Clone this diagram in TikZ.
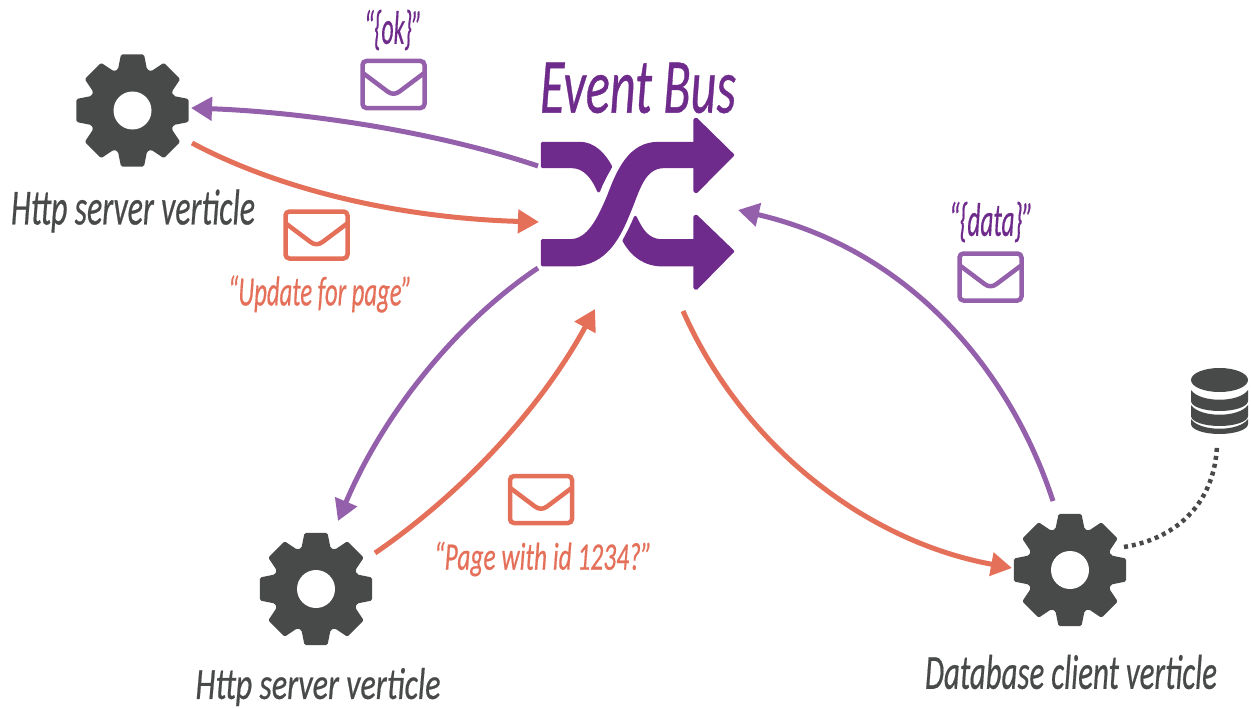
\documentclass[tikz,border=0pt]{standalone}
\usepackage{fontspec}
\setmainfont[ItalicFeatures={FakeBold=0.6}]{Carlito}
\usetikzlibrary{arrows.meta}
\definecolor{busP}{HTML}{6F2B8B}
\definecolor{lightP}{HTML}{9560AB}
\definecolor{orangeC}{HTML}{E5705A}
\definecolor{grayC}{HTML}{484A4A}
\tikzset{
  gear/.pic={
    \fill[grayC,even odd rule,rounded corners=1.5pt] (-19.5:43.5)
      \foreach \t in {0,45,...,315}{ -- (\t-19.5:43.5) -- (\t-11.6:57.2) -- (\t+11.6:57.2) -- (\t+19.5:43.5) } -- cycle;
    \fill[white] (0,0) circle (19);
  },
  envelope/.pic={
    \draw[line width=4.5pt,rounded corners=4pt,pic actions] (-31,-23.5) rectangle (31,23.5);
    \draw[line width=4.5pt,line join=round,line cap=round,pic actions] (-30,-11) -- (-6,7) .. controls (-2,10) and (2,10) .. (6,7) -- (30,-11);
  },
  flow/.style={line width=5pt,-{Triangle[length=21pt,width=23pt]}},
  lbl/.style={inner sep=0pt,font=\itshape},
  shuf/.style={fill=busP,draw=busP,line width=3pt,line join=round},
}
\begin{document}
\begin{tikzpicture}[x=1pt,y=-1pt]
\useasboundingbox (0,0) rectangle (1251,709);
% gears
\pic at (132.5,110.5) {gear};
\pic at (316,589) {gear};
\pic at (1070,570) {gear};
% database
\fill[grayC] (1191,380) arc[start angle=180,end angle=540,x radius=28.5,y radius=12];
\fill[grayC] (1191,390) .. controls (1200,403) and (1239,403) .. (1248,390) -- (1248,401) arc[start angle=0,end angle=180,x radius=28.5,y radius=10] -- cycle;
\fill[grayC] (1191,405) .. controls (1200,418) and (1239,418) .. (1248,405) -- (1248,416) arc[start angle=0,end angle=180,x radius=28.5,y radius=10] -- cycle;
\fill[grayC] (1191,419) .. controls (1200,432) and (1239,432) .. (1248,419) -- (1248,424) arc[start angle=0,end angle=180,x radius=28.5,y radius=10] -- cycle;
% shuffle icon
\begin{scope}[shift={(530,50)},x=0.3333pt,y=-0.3333pt]
\path[shuf]
  (37,280) -- (150,280) .. controls (190,280) and (222,312) .. (242,350)
  .. controls (228,375) and (215,398) .. (206,423)
  .. controls (190,385) and (165,350) .. (125,350) -- (37,350) -- cycle;
\path[shuf]
  (37,572) -- (120,572) .. controls (175,572) and (205,510) .. (235,440)
  .. controls (265,360) and (300,280) .. (385,280) -- (495,280) -- (495,209)
  -- (499,208) -- (608,315) -- (499,425) -- (495,423) -- (495,350) -- (400,350)
  .. controls (340,352) and (325,420) .. (300,480)
  .. controls (270,555) and (230,645) .. (125,645) -- (37,645) -- cycle;
\path[shuf]
  (316,502) .. controls (332,535) and (350,572) .. (395,572) -- (495,572) -- (495,500)
  -- (499,499) -- (608,604) -- (499,715) -- (495,713) -- (495,645) -- (400,645)
  .. controls (345,645) and (308,618) .. (282,572) .. controls (295,548) and (307,525) .. (316,502) -- cycle;
\end{scope}
% connector end points
\coordinate (busTL) at (538,166);
\coordinate (gearA) at (191,108);
\coordinate (gearAo) at (192,143);
\coordinate (busL) at (539,222);
\coordinate (busBL) at (538,268);
\coordinate (gearB) at (338,521);
\coordinate (gearBo) at (375,553);
\coordinate (busB) at (595,309);
\coordinate (busBR) at (683,311);
\coordinate (gearC) at (1012,568);
\coordinate (gearCo) at (1053,501);
\coordinate (busR) at (738,210);
\coordinate (gearCd) at (1124,547);
\coordinate (dbB) at (1217,445);
\draw[flow,lightP] (busTL) .. controls (430,130) and (300,112) .. (gearA);
\draw[flow,orangeC] (gearAo) .. controls (280,190) and (400,218) .. (busL);
\draw[flow,lightP] (busBL) .. controls (460,320) and (385,410) .. (gearB);
\draw[flow,orangeC] (gearBo) .. controls (460,495) and (540,410) .. (busB);
\draw[flow,orangeC] (busBR) .. controls (740,440) and (860,540) .. (gearC);
\draw[flow,lightP] (gearCo) .. controls (1010,370) and (910,250) .. (busR);
\draw[grayC,line width=4.5pt,dash pattern=on 4pt off 4pt] (gearCd) .. controls (1180,538) and (1215,500) .. (dbB);
% envelopes
\pic[lightP] at (393.5,84.5) {envelope};
\pic[orangeC] at (316.5,235) {envelope};
\pic[orangeC] at (541,499.5) {envelope};
\pic[lightP] at (990.5,277) {envelope};
% labels
\node[lbl,text=busP] (title) at (638,88) {\resizebox{196pt}{50pt}{Event Bus}};
\node[lbl,text=grayC] (l1) at (133,211) {\resizebox{244pt}{35pt}{Http server verticle}};
\node[lbl,text=grayC] (l2) at (318,687) {\resizebox{245pt}{31pt}{Http server verticle}};
\node[lbl,text=grayC] (l3) at (1071,672) {\resizebox{292pt}{34pt}{Database client verticle}};
\node[lbl,text=busP] (ok) at (393,30) {\resizebox{58pt}{34pt}{“\{ok\}”}};
\node[lbl,text=busP] (data) at (991,222) {\resizebox{84pt}{34pt}{“\{data\}”}};
\node[lbl,text=orangeC] (up) at (320,294) {\resizebox{184pt}{30pt}{“Update for page”}};
\node[lbl,text=orangeC] (pg) at (543,559) {\resizebox{218pt}{28pt}{“Page with id 1234?”}};
\end{tikzpicture}
\end{document}
